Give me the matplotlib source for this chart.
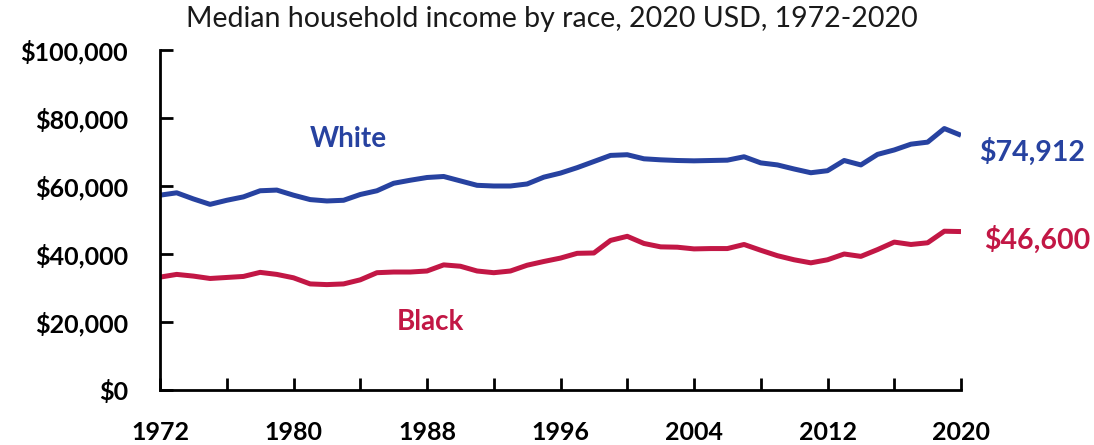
import matplotlib
matplotlib.use("Agg")
import matplotlib.pyplot as plt
from matplotlib.ticker import FuncFormatter, MultipleLocator, FixedLocator

years = list(range(1972, 2021))
white = [57.3, 58.0, 56.2, 54.6, 55.8, 56.8, 58.6, 58.8, 57.3, 56.0,
         55.6, 55.8, 57.5, 58.6, 60.8, 61.7, 62.5, 62.8, 61.5, 60.2,
         60.0, 60.0, 60.6, 62.6, 63.8, 65.4, 67.2, 69.0, 69.2, 68.0,
         67.7, 67.5, 67.4, 67.5, 67.6, 68.6, 66.8, 66.2, 65.0, 63.9,
         64.5, 67.5, 66.2, 69.3, 70.6, 72.3, 72.9, 76.9, 74.912]
black = [33.2, 34.0, 33.5, 32.8, 33.1, 33.4, 34.6, 34.0, 33.0, 31.2,
         31.0, 31.2, 32.4, 34.5, 34.7, 34.7, 35.0, 36.8, 36.4, 35.0,
         34.5, 35.0, 36.7, 37.8, 38.8, 40.2, 40.3, 44.0, 45.2, 43.1,
         42.1, 42.0, 41.5, 41.6, 41.6, 42.8, 41.1, 39.5, 38.3, 37.4,
         38.3, 40.0, 39.3, 41.3, 43.5, 42.8, 43.3, 46.7, 46.6]
white = [v * 1000 for v in white]
black = [v * 1000 for v in black]
x_labels = [1972, 1980, 1988, 1996, 2004, 2012, 2020]

title = "Median household income by race, 2020 USD, 1972-2020"
blue = "#2742A0"
red = "#C21745"

plt.rcParams['font.family'] = ['Lato', 'DejaVu Sans']

fig = plt.figure(figsize=(10.94, 4.45), dpi=100)
ax = fig.add_axes([160/1094, 1 - 390/445, (961-160)/1094, (390-50)/445])

ax.plot(years, white, color=blue, lw=3.6, solid_capstyle='butt', solid_joinstyle='round')
ax.plot(years, black, color=red, lw=3.6, solid_capstyle='butt', solid_joinstyle='round')

ax.set_xlim(1972, 2020)
ax.set_ylim(0, 100000)
ax.xaxis.set_major_locator(FixedLocator(x_labels))
ax.xaxis.set_minor_locator(MultipleLocator(4))
ax.yaxis.set_major_locator(MultipleLocator(20000))
ax.yaxis.set_major_formatter(FuncFormatter(lambda v, p: "${:,.0f}".format(v)))

for s in ['top', 'right']:
    ax.spines[s].set_visible(False)
for s in ['left', 'bottom']:
    ax.spines[s].set_linewidth(2)
    ax.spines[s].set_color('black')

ax.tick_params(axis='both', which='both', direction='in', width=2, color='black')
ax.tick_params(axis='both', which='major', length=9)
ax.tick_params(axis='x', which='minor', length=9)
ax.tick_params(axis='x', which='major', pad=22)
ax.tick_params(axis='y', which='major', pad=23)
for lab in ax.get_xticklabels() + ax.get_yticklabels():
    lab.set_fontweight('bold')
    lab.set_fontsize(18)

fig.text(552/1094, 1 - 19/445, title, ha='center', va='center', fontsize=20.5, color='#1a1a1a')

ax.text(1983.3, 73700, "White", color=blue, fontsize=20, fontweight='bold', ha='center', va='center')
ax.text(1988.2, 20100, "Black", color=red, fontsize=20, fontweight='bold', ha='center', va='center')
ax.text(2021.1, 70200, "${:,.0f}".format(white[-1]), color=blue, fontsize=20.5, fontweight='bold', ha='left', va='center', clip_on=False)
ax.text(2021.4, 44200, "${:,.0f}".format(black[-1]), color=red, fontsize=20.5, fontweight='bold', ha='left', va='center', clip_on=False)

fig.savefig("out.png", dpi=100)
